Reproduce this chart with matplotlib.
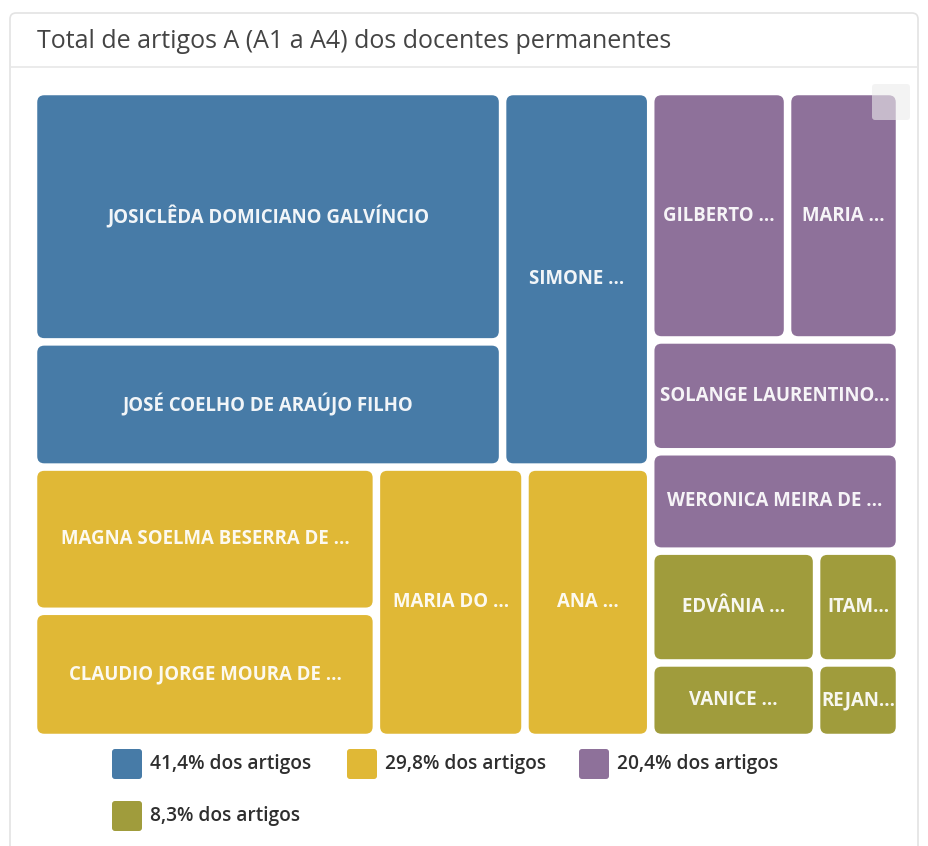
import matplotlib
matplotlib.use("Agg")
import matplotlib.pyplot as plt
from matplotlib.patches import FancyBboxPatch

# Artigos A (A1 a A4) por docente, agrupados por faixa
grupo_cores = ["#477ba7", "#e0b836", "#8e719a", "#a09c3c"]

azul_nomes = ["JOSICLÊDA DOMICIANO GALVÍNCIO", "JOSÉ COELHO DE ARAÚJO FILHO", "SIMONE ..."]
azul_valores = [38, 19, 18]

amarelo_nomes = ["MAGNA SOELMA BESERRA DE ...", "CLAUDIO JORGE MOURA DE ...", "MARIA DO ...", "ANA ..."]
amarelo_valores = [16, 14, 13, 11]

roxo_nomes = ["GILBERTO ...", "MARIA ...", "SOLANGE LAURENTINO...", "WERONICA MEIRA DE ..."]
roxo_valores = [11, 9, 9, 8]

oliva_nomes = ["EDVÂNIA ...", "VANICE ...", "ITAM...", "REJAN..."]
oliva_valores = [6, 4, 3, 2]

grupos = [
    (azul_nomes, azul_valores),
    (amarelo_nomes, amarelo_valores),
    (roxo_nomes, roxo_valores),
    (oliva_nomes, oliva_valores),
]

titulo = "Total de artigos A (A1 a A4) dos docentes permanentes"
FONT = "Open Sans"


def worst(row, side, ratio):
    s = sum(row)
    f = side * side * ratio
    return max(f * max(row) / (s * s), (s * s) / (f * min(row)))


def squarify(values, x, y, w, h, ratio=2.0):
    """Retângulos (x, y, w, h) para valores em ordem decrescente."""
    scale = w * h / float(sum(values))
    areas = [v * scale for v in values]
    rects = []
    vertical = w >= h
    i, n = 0, len(areas)
    while i < n:
        side = h if vertical else w
        row = [areas[i]]
        best = worst(row, side, ratio)
        j = i + 1
        while j < n:
            cand = row + [areas[j]]
            score = worst(cand, side, ratio)
            if score > best:
                break
            row, best = cand, score
            j += 1
        thick = sum(row) / side
        if j == n:
            thick = w if vertical else h
        pos = 0.0
        for a in row:
            length = a / thick
            if vertical:
                rects.append((x, y + pos, thick, length))
            else:
                rects.append((x + pos, y, length, thick))
            pos += length
        if vertical:
            x += thick
            w -= thick
        else:
            y += thick
            h -= thick
        vertical = not vertical
        i = j
    return rects


fig = plt.figure(figsize=(9.29, 8.46), dpi=100)
fig.patch.set_facecolor("white")
ax = fig.add_axes([0, 0, 1, 1])
ax.set_xlim(0, 929)
ax.set_ylim(846, 0)
ax.axis("off")

# cartão com cabeçalho
ax.add_patch(FancyBboxPatch((10, 13), 908, 860, boxstyle="round,pad=0,rounding_size=6",
                            facecolor="white", edgecolor="#e3e3e3", linewidth=1.2))
ax.plot([10, 918], [67, 67], color="#e8e8e8", linewidth=1.2)
ax.text(37, 41, titulo, fontsize=18, family=FONT, color="#444444", va="center", ha="left")

# treemap
gap = 3.75
totais = [sum(v) for _, v in grupos]
total = sum(totais)
ordem = sorted(range(len(grupos)), key=lambda k: -totais[k])
celulas = squarify([totais[k] for k in ordem], 33.5, 91.5, 866, 646)

for k, (gx, gy, gw, gh) in zip(ordem, celulas):
    nomes, valores = grupos[k]
    idx = sorted(range(len(valores)), key=lambda m: -valores[m])
    folhas = squarify([valores[m] for m in idx], gx, gy, gw, gh)
    for m, (fx, fy, fw, fh) in zip(idx, folhas):
        ax.add_patch(FancyBboxPatch((fx + gap, fy + gap), fw - 2 * gap, fh - 2 * gap,
                                    boxstyle="round,pad=0,rounding_size=7",
                                    facecolor=grupo_cores[k], edgecolor="none"))
        ax.text(fx + fw / 2, fy + fh / 2, nomes[m], fontsize=13.4, family=FONT,
                fontweight="bold", color="white", alpha=0.93, ha="center", va="center")

# botão de menu no canto
ax.add_patch(FancyBboxPatch((872, 84), 38, 36, boxstyle="round,pad=0,rounding_size=3",
                            facecolor="#ececec", edgecolor="none", alpha=0.6))

# legenda
leg_x = [112, 347, 579, 112]
leg_y = [764, 764, 764, 816]
for k in range(len(grupos)):
    pct = 100.0 * totais[k] / total
    rotulo = f"{pct:.1f}% dos artigos".replace(".", ",")
    ax.add_patch(FancyBboxPatch((leg_x[k], leg_y[k] - 15), 30, 30,
                                boxstyle="round,pad=0,rounding_size=3",
                                facecolor=grupo_cores[k], edgecolor="none"))
    ax.text(leg_x[k] + 38, leg_y[k], rotulo, fontsize=13.8, family=FONT,
            fontweight="semibold", color="#2e2e2e", ha="left", va="center")

fig.savefig("out.png", dpi=100, facecolor="white")
